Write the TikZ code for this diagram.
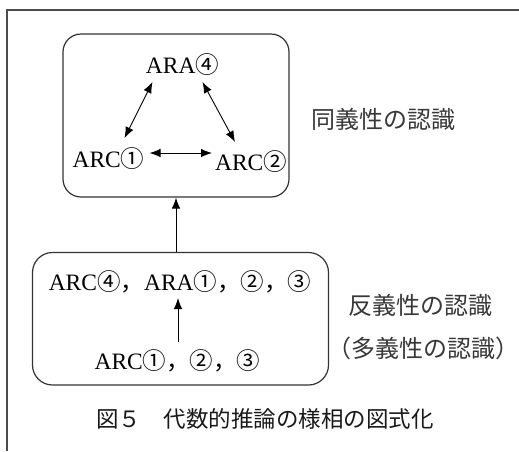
\documentclass[tikz,border=0pt]{standalone}
\usepackage{fontspec}
\setmainfont{Liberation Serif}
\newfontfamily\jp{Noto Sans CJK JP}
\usetikzlibrary{arrows.meta,calc}
\tikzset{
  lbl/.style={inner sep=0pt, font=\fontsize{23.5}{27}\selectfont},
  jplbl/.style={inner sep=0pt, text=black!78, font=\jp\fontsize{24}{28}\selectfont},
  capt/.style={inner sep=0pt, text=black!90, font=\jp\fontsize{22.5}{26}\selectfont},
  rbox/.style={draw=black!80, line width=1.2pt, inner sep=0pt},
  arr/.style={line width=0.9pt, -{Latex[length=11pt,width=8.5pt]}},
  darr/.style={line width=0.9pt, {Latex[length=11pt,width=8.5pt]}-{Latex[length=11pt,width=8.5pt]}},
  frame/.style={draw=black!70, line width=2pt}
}
\begin{document}
\begin{tikzpicture}[x=1pt,y=-1pt]
\useasboundingbox (0,0) rectangle (519,451);
% partial outer frame (top and left edges)
\draw[frame] (6.5,451) -- (6.5,9.5) -- (519,9.5);
% boxes
\node[rbox, rounded corners=18pt, minimum width=226pt, minimum height=163pt] (box1) at (176,115.5) {};
\node[rbox, rounded corners=20pt, minimum width=296pt, minimum height=132.5pt] (box2) at (180.5,318.75) {};
% top box labels
\node[lbl] (ara4) at (182.5,65) {ARA{\jp ④}};
\node[lbl] (arc1) at (108.5,159) {ARC{\jp ①}};
\node[lbl] (arc2) at (251,162) {ARC{\jp ②}};
\draw[darr] ($(ara4.center)+(-30,17)$) -- ($(arc1.center)+(16,-21)$);
\draw[darr] ($(ara4.center)+(20,17)$) -- ($(arc2.center)+(-16,-20)$);
\draw[darr] ($(arc1.center)+(41,-6)$) -- ($(arc2.center)+(-39,-9)$);
% bottom box labels
\node[lbl] (l1) at (180,282) {ARC{\jp ④，}ARA{\jp ①，②，③}};
\node[lbl] (l2) at (177.5,361) {ARC{\jp ①，②，③}};
\draw[arr] ($(l2.center)+(0.5,-19)$) -- ($(l1.center)+(-2,16)$);
% connector between boxes
\draw[arr] (box2.north -| box1.south) -- (box1.south);
% side labels
\node[jplbl] (syn) at (383.5,119) {同義性の認識};
\node[jplbl] (ant) at (420.5,305) {反義性の認識};
\node[jplbl] (poly) at (423.5,348) {（多義性の認識）};
% caption
\node[capt] (cap) at (265,419) {図５　代数的推論の様相の図式化};
\end{tikzpicture}
\end{document}
